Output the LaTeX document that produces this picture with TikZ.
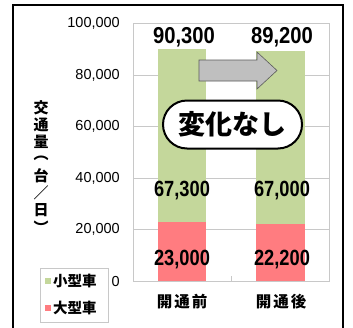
\documentclass[tikz,border=0pt]{standalone}
\usepackage{fontspec}
\setmainfont{Liberation Sans}
\newfontfamily\numfont{Liberation Sans}
\newfontfamily\cjk{Noto Sans CJK JP}
\usepackage{graphicx}
\definecolor{barGreen}{RGB}{196,215,155}
\definecolor{barRed}{RGB}{255,124,128}
\definecolor{gridGray}{RGB}{200,200,200}
\definecolor{arrowGray}{RGB}{191,191,191}
\definecolor{arrowEdge}{RGB}{90,90,90}
\tikzset{
  ylbl/.style={anchor=east, inner sep=0pt, font=\numfont\fontsize{14.5}{14.5}\selectfont},
  toplbl/.style={inner sep=0pt, font=\numfont\bfseries\fontsize{23}{23}\selectfont},
  datalbl/.style={inner sep=0pt, font=\numfont\bfseries\fontsize{22}{22}\selectfont},
  catlbl/.style={inner sep=0pt, font=\cjk\bfseries\fontsize{15.5}{15.5}\selectfont},
  vchar/.style={inner sep=0pt, font=\cjk\bfseries\fontsize{15}{15}\selectfont},
  leglbl/.style={anchor=west, inner sep=0pt, font=\cjk\bfseries\fontsize{14.5}{14.5}\selectfont},
  gridline/.style={draw=gridGray, line width=0.8pt},
  pill/.style={draw=black, fill=white, line width=2pt, rounded corners=24pt,
    minimum width=139pt, minimum height=48pt, inner sep=0pt,
    font=\cjk\bfseries\fontsize{27}{27}\selectfont}
}
\begin{document}
\begin{tikzpicture}[x=1pt,y=-1pt]
\useasboundingbox (0,0) rectangle (353,327);
\fill[white] (0,0) rectangle (353,327);
\begin{scope}
\clip (0,0) rectangle (353,327);
\draw[line width=2pt] (13,5) rectangle (343,345);
\end{scope}
% plot area and grid
\draw[gridline] (133,23.5) rectangle (329,281);
\foreach \yy in {75,126.5,178,229.5} \draw[gridline] (133,\yy) -- (329,\yy);
\draw[gridline] (231,276) -- (231,281);
% bars
\fill[barRed] (158,281) rectangle (206,221.8);
\fill[barGreen] (158,221.8) rectangle (206,48.5);
\fill[barRed] (256,281) rectangle (305,223.8);
\fill[barGreen] (256,223.8) rectangle (305,51.3);
% y-axis labels
\node[ylbl] (y100) at (120,23.5) {100,000};
\node[ylbl] (y80) at (120,75) {80,000};
\node[ylbl] (y60) at (120,126.5) {60,000};
\node[ylbl] (y40) at (120,178) {40,000};
\node[ylbl] (y20) at (120,229.5) {20,000};
\node[ylbl] (y0) at (120,281.5) {0};
% axis title (vertical)
\foreach \c [count=\i from 0] in {交,通,量,︵,台,／,日,︶}
  \node[vchar] (v\i) at (41,{107.5+\i*17.1}) {\c};
% arrow
\draw[draw=arrowEdge, fill=arrowGray, line width=0.6pt]
  (199,60) -- (257,60) -- (257,52) -- (277,70.5) -- (257,89) -- (257,81) -- (199,81) -- cycle;
% data labels
\node[toplbl] (t1) at (184,37) {\scalebox{0.88}[1]{90,300}};
\node[toplbl] (t2) at (282,37) {\scalebox{0.88}[1]{89,200}};
\node[datalbl] (m1) at (182,191) {\scalebox{0.83}[1]{67,300}};
\node[datalbl] (m2) at (282,191) {\scalebox{0.83}[1]{67,000}};
\node[datalbl] (b1) at (182,260) {\scalebox{0.83}[1]{23,000}};
\node[datalbl] (b2) at (282,260) {\scalebox{0.83}[1]{22,200}};
% pill
\node[pill] (nochange) at (232.5,124.5) {変化なし};
% category labels
\node[catlbl] (c1) at (182,302) {開\hspace{2pt}通\hspace{2pt}前};
\node[catlbl] (c2) at (281,302) {開\hspace{2pt}通\hspace{2pt}後};
% legend
\draw[draw=gridGray, line width=0.8pt] (40,268) rectangle (108,322);
\fill[barGreen] (45,278) rectangle (51,284);
\fill[barRed] (45,305) rectangle (51,311);
\node[leglbl] (l1) at (53,281) {小型車};
\node[leglbl] (l2) at (53,308) {大型車};
\end{tikzpicture}
\end{document}
